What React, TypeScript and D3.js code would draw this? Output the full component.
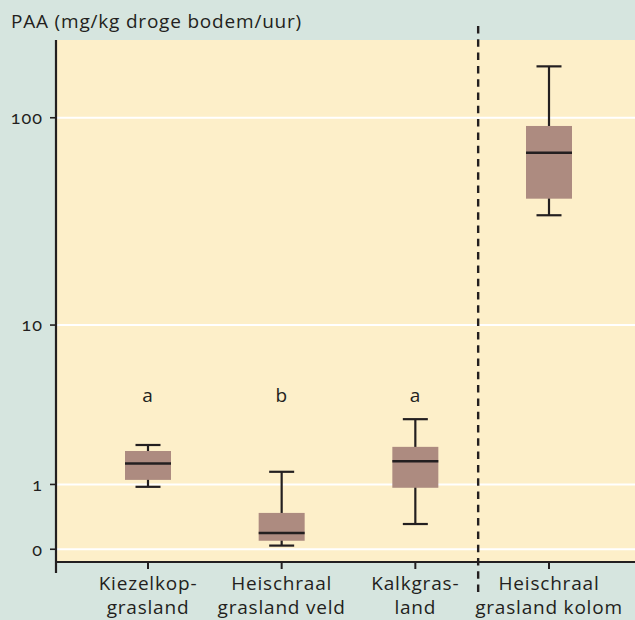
import React from "react";
import * as d3 from "d3";

const categories = ["Kiezelkop-\ngrasland", "Heischraal\ngrasland veld", "Kalkgras-\nland", "Heischraal\ngrasland kolom"];
const whiskerLow = [0.95, 0.04, 0.31, 34.6];
const q1 = [1.1, 0.095, 0.93, 41.5];
const median = [1.5, 0.19, 1.56, 68.5];
const q3 = [1.86, 0.475, 1.99, 91.5];
const whiskerHigh = [2.05, 1.29, 3.02, 174];
const letters = ["a", "b", "a", ""];
const yTicks = [0, 1, 10, 100];
const yTitle = "PAA (mg/kg droge bodem/uur)";

const W = 635;
const H = 620;
const BG = "#d6e5df";
const PLOT = "#fdefc9";
const BOX = "#ad8b80";
const INK = "#231f20";
const FONT = "'Open Sans', 'Noto Sans', sans-serif";

export default function App() {
  const plotLeft = 56;
  const plotTop = 40;
  const plotBottom = 562;
  const y = d3.scaleSymlog().constant(1).domain([-0.146, 231]).range([plotBottom, plotTop]);
  const x = d3.scalePoint<string>().domain(categories).range([148, 549]);
  const boxW = 46;
  const capW = 25;
  const divider = (x(categories[2])! + x(categories[3])!) / 2 - 4;
  const txt = { fontSize: 19, letterSpacing: 0.8, fill: INK } as const;

  return (
    <div style={{ position: "absolute", left: 0, top: 0, width: W, height: H }}>
      <svg width={W} height={H} style={{ display: "block" }} fontFamily={FONT}>
        <rect x={0} y={0} width={W} height={H} fill={BG} />
        <rect x={plotLeft} y={plotTop} width={W - plotLeft} height={plotBottom - plotTop} fill={PLOT} />
        {yTicks.map((t) => (
          <line key={"g" + t} x1={plotLeft} x2={W} y1={y(t)} y2={y(t)} stroke="#fff" strokeWidth={2} />
        ))}
        <text x={11} y={28} {...txt}>{yTitle}</text>
        {yTicks.map((t) => (
          <g key={"t" + t}>
            <line x1={50} x2={plotLeft} y1={y(t)} y2={y(t)} stroke={INK} strokeWidth={1.6} />
            <text x={43} y={y(t)} dy="0.35em" textAnchor="end" fontSize={18} letterSpacing={1} fill={INK}
              fontFamily="Lato, 'Open Sans', sans-serif"
              style={{ fontVariantNumeric: "oldstyle-nums" }}>{t}</text>
          </g>
        ))}
        <line x1={plotLeft} x2={plotLeft} y1={plotTop} y2={573} stroke={INK} strokeWidth={2.2} />
        <line x1={plotLeft} x2={W} y1={plotBottom} y2={plotBottom} stroke={INK} strokeWidth={2.2} />
        <line x1={divider} x2={divider} y1={26} y2={592} stroke={INK} strokeWidth={2.4} strokeDasharray="7.5 5.8" />
        {categories.map((c, i) => {
          const cx = x(c)!;
          const lines = c.split("\n");
          return (
            <g key={c}>
              <line x1={cx} x2={cx} y1={y(whiskerHigh[i])} y2={y(whiskerLow[i])} stroke={INK} strokeWidth={2.2} />
              <line x1={cx - capW / 2} x2={cx + capW / 2} y1={y(whiskerHigh[i])} y2={y(whiskerHigh[i])} stroke={INK} strokeWidth={2.2} />
              <line x1={cx - capW / 2} x2={cx + capW / 2} y1={y(whiskerLow[i])} y2={y(whiskerLow[i])} stroke={INK} strokeWidth={2.2} />
              <rect x={cx - boxW / 2} y={y(q3[i])} width={boxW} height={y(q1[i]) - y(q3[i])} fill={BOX} />
              <line x1={cx - boxW / 2} x2={cx + boxW / 2} y1={y(median[i])} y2={y(median[i])} stroke={INK} strokeWidth={2.5} />
              {letters[i] && (
                <text x={cx} y={402} textAnchor="middle" {...txt}>{letters[i]}</text>
              )}
              <line x1={cx} x2={cx} y1={plotBottom} y2={569} stroke={INK} strokeWidth={2} />
              {lines.map((l, k) => (
                <text key={k} x={cx} y={590 + k * 24} textAnchor="middle" {...txt}>{l}</text>
              ))}
            </g>
          );
        })}
      </svg>
    </div>
  );
}
